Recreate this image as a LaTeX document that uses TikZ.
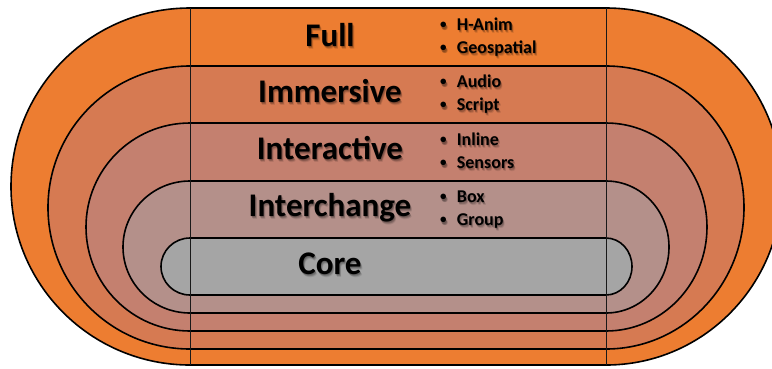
\documentclass[tikz,border=0pt]{standalone}
\usepackage{fontspec}
\setmainfont{Carlito}
\definecolor{fullc}{HTML}{ED7D31}
\definecolor{immc}{HTML}{D67A52}
\definecolor{intac}{HTML}{C4806F}
\definecolor{intcc}{HTML}{B4908A}
\definecolor{corec}{HTML}{A5A5A5}
\tikzset{
  ringline/.style={draw=black, line width=1.6pt},
  divider/.style={draw=black!90, line width=0.8pt},
  levelname/.style={font=\bfseries\fontsize{33}{35}\selectfont, inner sep=0pt, anchor=base},
  featurelist/.style={font=\bfseries\fontsize{18}{23}\selectfont, inner sep=0pt, anchor=base west, align=left},
  textshadow/.style={text=black, opacity=0.18}
}
% stadium ring: top, bottom, left radius, right radius, fill colour
\newcommand\stadiumring[5]{%
  \pgfmathsetmacro\halfh{(#2-#1)/2}%
  \filldraw[ringline, fill=#5] (190,#1) -- (606,#1)
    arc[start angle=-90, end angle=90, x radius=#4, y radius=\halfh]
    -- (190,#2)
    arc[start angle=90, end angle=270, x radius=#3, y radius=\halfh] -- cycle;}
% label with a soft drop shadow
\newcommand\shadedlabel[5]{%
  \node[#4, textshadow, xshift=1.2pt, yshift=-2.2pt] (#1-sh1) at (#2) {#3};
  \node[#4, textshadow, xshift=0.6pt, yshift=-1.4pt] (#1-sh2) at (#2) {#3};
  \node[#4, textshadow, xshift=1.8pt, yshift=-3pt, opacity=0.1] (#1-sh3) at (#2) {#3};
  \node[#4, #5] (#1) at (#2) {#3};}
\newcommand\bulletitem[1]{\makebox[18.7pt][l]{\hspace*{2pt}\raisebox{1.2pt}{\fontsize{13}{13}\selectfont •}}#1}
\begin{document}
\begin{tikzpicture}[x=1pt, y=-1pt]
\useasboundingbox (0,0) rectangle (772,368);
\clip (0,0) rectangle (772,368);

% nested levels, outermost first
\stadiumring{8}{365}{179}{176}{fullc}
\stadiumring{66}{349}{142}{138}{immc}
\stadiumring{123}{331}{104}{101}{intac}
\stadiumring{181}{313}{67}{63}{intcc}
\stadiumring{238}{295}{29}{26}{corec}

% column dividers
\coordinate (lt) at (190,8);
\coordinate (lb) at (190,365);
\coordinate (rt) at (606,8);
\coordinate (rb) at (606,365);
\draw[divider] (lt) -- (lb);
\draw[divider] (rt) -- (rb);

% level names
\shadedlabel{full}{330,46}{Full}{levelname}{}
\shadedlabel{immersive}{330,102}{Immersive}{levelname}{}
\shadedlabel{interactive}{330,159}{Interactive}{levelname}{}
\shadedlabel{interchange}{330,216.5}{Interchange}{levelname}{}
\shadedlabel{core}{330,274.5}{Core}{levelname}{}

% components added at each level (anchored on the second line's baseline)
\shadedlabel{fulllist}{438,53}{\bulletitem{H-Anim}\\\bulletitem{Geospatial}}{featurelist}{}
\shadedlabel{immlist}{438,110}{\bulletitem{Audio}\\\bulletitem{Script}}{featurelist}{}
\shadedlabel{intalist}{438,168}{\bulletitem{Inline}\\\bulletitem{Sensors}}{featurelist}{}
\shadedlabel{intclist}{438,225}{\bulletitem{Box}\\\bulletitem{Group}}{featurelist}{}
\end{tikzpicture}
\end{document}
